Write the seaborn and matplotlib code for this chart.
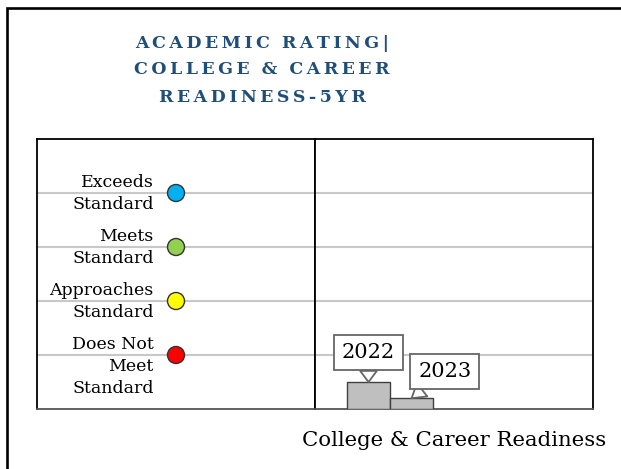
import matplotlib
matplotlib.use("Agg")
import matplotlib.pyplot as plt
import matplotlib.patches as mpatches
import seaborn as sns
import pandas as pd

# chart data
title_lines = ["A\u2009C\u2009A\u2009D\u2009E\u2009M\u2009I\u2009C  R\u2009A\u2009T\u2009I\u2009N\u2009G\u2009|",
               "C\u2009O\u2009L\u2009L\u2009E\u2009G\u2009E  &  C\u2009A\u2009R\u2009E\u2009E\u2009R",
               "R\u2009E\u2009A\u2009D\u2009I\u2009N\u2009E\u2009S\u2009S\u2009-\u20095\u2009Y\u2009R"]
levels = ["Exceeds\nStandard", "Meets\nStandard", "Approaches\nStandard", "Does Not\nMeet\nStandard"]
level_values = [4, 3, 2, 1]
level_colors = ["#00B0F0", "#92D050", "#FFFF00", "#FF0000"]
category = "College & Career Readiness"
years = ["2022", "2023"]
scores = [0.5, 0.2]

sns.set_theme(style="white")
plt.rcParams['font.family'] = ['DejaVu Serif']
plt.rcParams['text.color'] = 'black'

W, H = 621, 469
fig = plt.figure(figsize=(W / 100, H / 100), dpi=100)

# outer border (runs off the right and bottom edges)
fig.patches.append(mpatches.Rectangle((6.5 / W, -0.1), 1.2, 1.1 - 8.5 / H,
                                      transform=fig.transFigure, fill=False,
                                      edgecolor="black", linewidth=1.9, clip_on=False))

for i, line in enumerate(title_lines):
    fig.text(262 / W, 1 - (43 + 27 * i) / H, line, ha="center", va="center",
             fontsize=12.5, fontweight="bold", color="#1F4E79")

x0, x1, x2 = 37, 315, 593
top, bot = 139, 409
ax1 = fig.add_axes([x0 / W, 1 - bot / H, (x1 - x0) / W, (bot - top) / H])
ax2 = fig.add_axes([x1 / W, 1 - bot / H, (x2 - x1) / W, (bot - top) / H], sharey=ax1)

# left panel: rating levels
lev = pd.DataFrame({"x": [0.5] * 4, "y": level_values, "level": levels})
sns.scatterplot(data=lev, x="x", y="y", hue="level", palette=level_colors, s=150,
                edgecolor="#333333", linewidth=1, legend=False, zorder=3, ax=ax1)
for name, v in zip(levels, level_values):
    ax1.annotate(name, (0.5, v), xytext=(-16, 13.5), textcoords="offset points",
                 ha="right", va="top", fontsize=12.5, color="black", linespacing=1.38)
ax1.set_xlim(0, 1)

# right panel: bars
bars = pd.DataFrame({"cat": [category] * 2, "year": years, "score": scores})
sns.barplot(data=bars, x="cat", y="score", hue="year", palette=["#BFBFBF", "#BFBFBF"],
            width=0.31, edgecolor="#404040", linewidth=1, legend=False, zorder=3, ax=ax2)
ax2.set_xlim(-0.27, 0.73)
offsets = [(0, 21), (24, 19)]
for p, yr, off in zip(ax2.patches, years, offsets):
    ax2.annotate(yr, (p.get_x() + p.get_width() / 2, p.get_height()), xytext=off,
                 textcoords="offset points", ha="center", va="center", fontsize=15,
                 color="black",
                 bbox=dict(boxstyle="square,pad=0.38", fc="white", ec="#666666", lw=1.3),
                 arrowprops=dict(arrowstyle="wedge,tail_width=0.8,shrink_factor=0.5",
                                 fc="white", ec="#666666", lw=1.3, shrinkA=0, shrinkB=0),
                 zorder=5)

for ax in (ax1, ax2):
    ax.set_ylim(0, 5)
    ax.set_yticks([1, 2, 3, 4])
    ax.yaxis.grid(True, color="#C8C8C8", linewidth=1.5)
    ax.set_axisbelow(True)
    ax.tick_params(left=False, bottom=False, labelleft=False, labelbottom=False)
    ax.set_ylabel("")
    for s in ax.spines.values():
        s.set_color("black")
        s.set_linewidth(1.3)
    ax.spines["bottom"].set_color("#555555")
ax1.set_xlabel("")
ax2.set_xlabel(category, fontsize=15.3, labelpad=16, color="black")

fig.savefig("out.png", dpi=100)
